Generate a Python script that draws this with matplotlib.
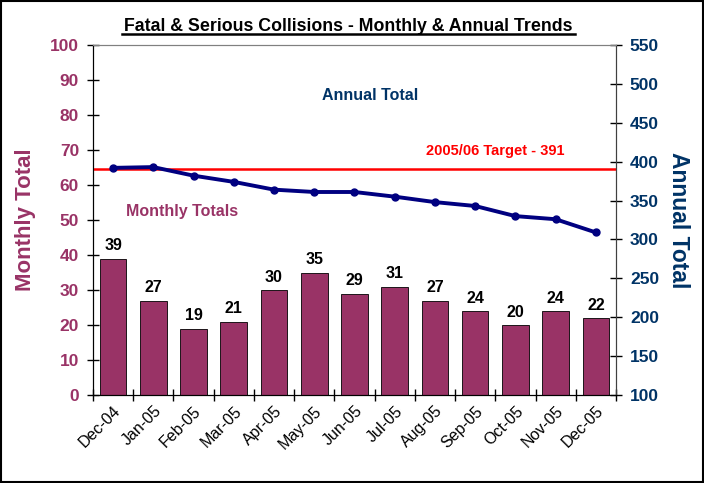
import matplotlib.pyplot as plt
import numpy as np
from matplotlib.patches import Rectangle

plt.rcParams['font.family'] = ['Liberation Sans', 'DejaVu Sans']

months = ['Dec-04', 'Jan-05', 'Feb-05', 'Mar-05', 'Apr-05', 'May-05', 'Jun-05',
          'Jul-05', 'Aug-05', 'Sep-05', 'Oct-05', 'Nov-05', 'Dec-05']
monthly = [39, 27, 19, 21, 30, 35, 29, 31, 27, 24, 20, 24, 22]
annual = [392, 393, 382, 374, 364, 361, 361, 355, 348, 343, 330, 326, 309]
target = 391

plum = '#993366'
navy = '#000080'
dblue = '#003366'

fig = plt.figure(figsize=(7.04, 4.83), dpi=100)
ax = fig.add_axes([0.132, 0.182, 0.743, 0.725])
ax2 = ax.twinx()

x = np.arange(len(months))
ax.bar(x, monthly, width=0.66, color=plum, edgecolor='black', linewidth=0.6, zorder=2)
for xi, v in zip(x, monthly):
    ax.text(xi, v + 1.5, str(v), ha='center', va='bottom', fontsize=11.5, fontweight='bold')

ax2.plot(x, annual, color=navy, lw=2.8, marker='o', ms=5, zorder=3)
ax2.axhline(target, color='red', lw=1.8, zorder=2)

ax.set_xlim(-0.5, len(months) - 0.5)
ax.set_ylim(0, 100)
ax2.set_ylim(100, 550)
ax.set_yticks(range(0, 101, 10))
ax2.set_yticks(range(100, 551, 50))

# category boundary ticks, labels centred under each bar
ax.set_xticks(np.arange(-0.5, len(months), 1))
ax.set_xticklabels([])
ax.set_xticks(x, minor=True)
ax.set_xticklabels(months, minor=True, rotation=45, ha='right', rotation_mode='anchor',
                   fontsize=11.5)
ax.tick_params(axis='x', which='major', direction='inout', length=8, width=1)
ax.tick_params(axis='x', which='minor', length=0, pad=6)

ax.tick_params(axis='y', direction='inout', length=8, width=1, labelsize=12.5,
               labelcolor=plum, pad=6)
ax2.tick_params(axis='y', direction='inout', length=8, width=1, labelsize=12.5,
                labelcolor=dblue, pad=6)
for lab in ax.get_yticklabels() + ax2.get_yticklabels():
    lab.set_fontweight('bold')

for a in (ax, ax2):
    a.spines['top'].set_color('#808080')
    a.spines['right'].set_color('#404040')
    a.spines['left'].set_color('black')
    a.spines['bottom'].set_color('black')

ax.set_ylabel('Monthly Total', color=plum, fontsize=16, fontweight='bold', labelpad=10)
ax2.set_ylabel('Annual Total', color=dblue, fontsize=16.5, fontweight='bold',
               rotation=-90, labelpad=22)

ax.text(0.53, 0.855, 'Annual Total', transform=ax.transAxes, color=dblue,
        fontsize=11.5, fontweight='bold', ha='center', va='center')
ax.text(0.17, 0.524, 'Monthly Totals', transform=ax.transAxes, color=plum,
        fontsize=11.5, fontweight='bold', ha='center', va='center')
ax.text(0.77, 0.697, '2005/06 Target - 391', transform=ax.transAxes, color='red',
        fontsize=10.5, fontweight='bold', ha='center', va='center')

fig.text(0.494, 0.946, 'Fatal & Serious Collisions - Monthly & Annual Trends',
         ha='center', va='center', fontsize=12.8, fontweight='bold')
fig.add_artist(plt.Line2D([0.173, 0.817], [0.929, 0.929], color='black', lw=1.8))

fig.add_artist(Rectangle((0.002, 0.002), 0.996, 0.996, transform=fig.transFigure,
                         fill=False, edgecolor='black', lw=1.5))

fig.savefig('out.png', dpi=100)
